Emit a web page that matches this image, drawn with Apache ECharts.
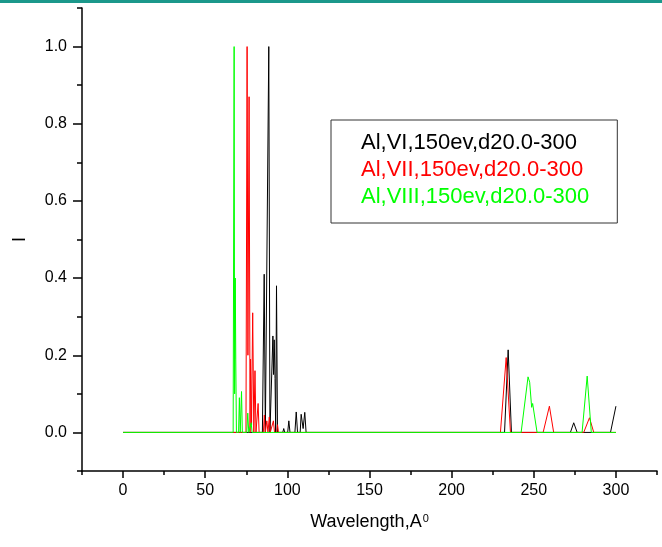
<!DOCTYPE html>
<html>
<head>
<meta charset="utf-8">
<script src="https://cdn.jsdelivr.net/npm/echarts@6/dist/echarts.min.js"></script>
<style>
html,body{margin:0;padding:0;background:#fff;}
#chart{width:662px;height:547px;}
</style>
</head>
<body>
<div id="chart"></div>
<script>
// Series names (legend)
const seriesNames = ['Al,VI,150ev,d20.0-300', 'Al,VII,150ev,d20.0-300', 'Al,VIII,150ev,d20.0-300'];

// [wavelength, intensity]
const alVI = [
  [0,0],[84.8,0],[85.9,0.41],[86.6,0],[87.8,0],[88.7,1.0],[89.4,0],[90.6,0],
  [91.2,0.25],[91.6,0.15],[92.0,0.24],[92.5,0.14],[92.9,0],[93.4,0.38],[94.0,0],
  [97.2,0],[97.8,0.01],[98.4,0],[100.2,0],[100.9,0.03],[101.6,0],[104.6,0],[105.4,0.053],[106.2,0],
  [107.8,0],[108.4,0.047],[109.6,0.01],[110.6,0.052],[111.4,0],[135,0],[135.4,0.005],[135.8,0],
  [232.2,0],[234.4,0.214],[236.4,0],[272.3,0],[274.3,0.025],[276.4,0],[296.7,0],[300,0.068]
];
const alVII = [
  [0,0],[74.8,0],[75.5,1.0],[76.0,0.2],[76.7,0.87],[77.3,0],[77.6,0.19],[78.2,0.02],[78.9,0.31],
  [79.6,0],[80.3,0.16],[80.9,0],[81.6,0],[82.2,0.075],[82.8,0],[85.4,0],[86.0,0.045],[86.6,0],
  [87.5,0.03],[88.2,0],[89.0,0.04],[89.6,0],[91.5,0.03],[92.2,0],[93.5,0],[94.0,0.02],[94.6,0],
  [229.7,0],[233.2,0.194],[235.8,0],[255.7,0],[259.5,0.068],[262.1,0],[280.4,0],[283.9,0.038],[286.5,0],[300,0]
];
const alVIII = [
  [0,0],[67.0,0],[67.6,1.0],[67.9,0.1],[68.3,0.40],[68.6,0.19],[69.0,0],[70.3,0],[70.8,0.09],[71.3,0],
  [71.7,0],[72.1,0.106],[72.6,0],[75.3,0],[75.9,0.05],[76.5,0],[77.5,0],[78.0,0.025],[78.5,0],
  [242.3,0],[246.5,0.144],[247.5,0.13],[248.7,0.065],[249.3,0.075],[252,0],
  [279.4,0],[282.5,0.146],[285,0],[300,0]
];

// Tick values
const xMajorTicks = [0,50,100,150,200,250,300];
const xMinorTicks = [-25,25,75,125,175,225,275,325];
const yMajorTicks = [0,0.2,0.4,0.6,0.8,1.0];
const yMinorTicks = [-0.1,0.1,0.3,0.5,0.7,0.9,1.1];

const colors = ['#000000', '#ff0000', '#00ff00'];
const FONT = 'Arial, "Liberation Sans", sans-serif';

const chart = echarts.init(document.getElementById('chart'), null, {renderer: 'canvas'});
const axisLineStyle = {color: '#000', width: 1.5};

chart.setOption({
  animation: false,
  backgroundColor: '#fff',
  graphic: [{
    type: 'rect', shape: {x: 0, y: 0, width: 662, height: 3},
    style: {fill: '#1b988b'}, silent: true
  }],
  grid: {left: 82, right: 5, top: 8, bottom: 76, containLabel: false, outerBoundsMode: 'none'},
  legend: {
    orient: 'vertical', left: 331, top: 120,
    padding: [12, 28, 15, 25], itemGap: 5,
    itemWidth: 0, itemHeight: 0,
    borderColor: '#333', borderWidth: 1,
    selectedMode: false,
    data: seriesNames.map((n, i) => ({name: n, icon: 'none', textStyle: {color: colors[i]}})),
    textStyle: {fontFamily: FONT, fontSize: 22, lineHeight: 22}
  },
  xAxis: [{
    type: 'value', min: -25, max: 325, position: 'bottom',
    axisLine: {show: true, onZero: false, lineStyle: axisLineStyle},
    axisTick: {show: true, inside: false, length: 7, customValues: xMajorTicks, lineStyle: {color: '#000', width: 1.5}},
    axisLabel: {customValues: xMajorTicks, color: '#000', fontFamily: FONT, fontSize: 16, margin: 12},
    splitLine: {show: false},
    name: 'Wavelength,A{sup|0}', nameLocation: 'middle', nameGap: 42,
    nameTextStyle: {color: '#000', fontFamily: FONT, fontSize: 18,
      rich: {sup: {fontSize: 11, verticalAlign: 'top', fontFamily: FONT, color: '#000', padding: [0,0,8,1]}}}
  }, {
    type: 'value', min: -25, max: 325, position: 'bottom',
    axisLine: {show: false, onZero: false},
    axisTick: {show: true, inside: false, length: 4, customValues: xMinorTicks, lineStyle: {color: '#000', width: 1.5}},
    axisLabel: {show: false},
    splitLine: {show: false}
  }],
  yAxis: [{
    type: 'value', min: -0.1, max: 1.1, position: 'left',
    axisLine: {show: true, onZero: false, lineStyle: axisLineStyle},
    axisTick: {show: true, inside: false, length: 9, customValues: yMajorTicks, lineStyle: {color: '#000', width: 1.5}},
    axisLabel: {customValues: yMajorTicks, color: '#000', fontFamily: FONT, fontSize: 16, margin: 15,
      formatter: v => v.toFixed(1)},
    splitLine: {show: false},
    name: 'I', nameLocation: 'middle', nameGap: 53, nameRotate: 90,
    nameTextStyle: {color: '#000', fontFamily: FONT, fontSize: 18}
  }, {
    type: 'value', min: -0.1, max: 1.1, position: 'left',
    axisLine: {show: false, onZero: false},
    axisTick: {show: true, inside: false, length: 5, customValues: yMinorTicks, lineStyle: {color: '#000', width: 1.5}},
    axisLabel: {show: false},
    splitLine: {show: false}
  }],
  series: [alVI, alVII, alVIII].map((d, i) => ({
    name: seriesNames[i], type: 'line', data: d,
    xAxisIndex: 0, yAxisIndex: 0,
    showSymbol: false, symbol: 'none', smooth: false,
    lineStyle: {color: colors[i], width: 1},
    itemStyle: {color: colors[i]},
    emphasis: {disabled: true}, silent: true
  }))
});
</script>
</body>
</html>
